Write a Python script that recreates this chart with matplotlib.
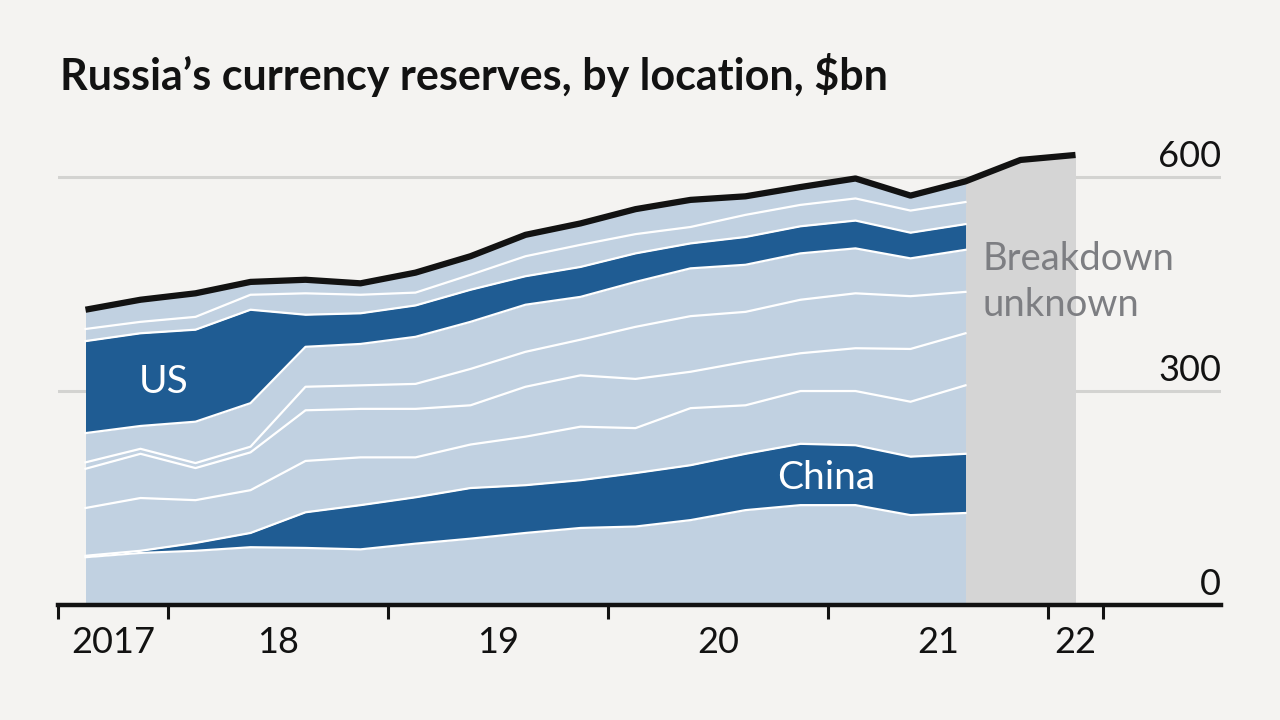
import matplotlib
matplotlib.use("Agg")
import matplotlib.pyplot as plt
import numpy as np

# quarters, plotted at mid-quarter
quarters = [
    "2017Q3", "2017Q4", "2018Q1", "2018Q2", "2018Q3", "2018Q4",
    "2019Q1", "2019Q2", "2019Q3", "2019Q4", "2020Q1", "2020Q2",
    "2020Q3", "2020Q4", "2021Q1", "2021Q2", "2021Q3", "2021Q4", "2022Q1",
]

# stacked bands, bottom to top, $bn (breakdown known up to 2021Q3)
band_1 = [67, 73, 76, 81, 80, 78, 86, 93, 101, 108, 110, 119, 133, 140, 140, 126, 129]
china = [2, 3, 11, 20, 50, 62, 65, 71, 67, 67, 75, 77, 79, 86, 84, 82, 83]
band_3 = [67, 74, 60, 60, 72, 67, 56, 61, 68, 75, 63, 80, 68, 74, 76, 77, 96]
band_4 = [55, 62, 45, 53, 71, 68, 68, 55, 70, 72, 69, 51, 61, 53, 60, 74, 73]
band_5 = [9, 7, 7, 8, 33, 33, 35, 51, 49, 50, 73, 78, 70, 75, 77, 74, 58]
band_6 = [41, 32, 58, 61, 56, 58, 66, 66, 66, 60, 63, 67, 66, 65, 63, 53, 59]
us = [129, 130, 129, 131, 45, 43, 44, 45, 40, 42, 40, 35, 39, 38, 39, 36, 36]
band_8 = [17, 16, 18, 21, 30, 26, 18, 21, 28, 31, 27, 23, 31, 30, 31, 31, 31]
band_9 = [27, 31, 33, 18, 19, 16, 28, 26, 30, 30, 35, 38, 26, 25, 28, 21, 29]

# total reserves, all quarters
total = [414, 428, 437, 453, 456, 451, 466, 489, 519, 535, 555, 568, 573,
         586, 598, 574, 594, 624, 631]

year_ticks = [2017.5, 2018, 2019, 2020, 2021, 2022, 2022.25]
year_label_pos = [2017.75, 2018.5, 2019.5, 2020.5, 2021.5, 2022.125]
year_labels = ["2017", "18", "19", "20", "21", "22"]
y_labels = [0, 300, 600]

BG = "#f4f3f1"
LIGHT = "#c1d1e1"
DARK = "#1f5c93"
GREY_AREA = "#d5d5d5"
GRID = "#d3d3d1"
INK = "#121212"
NOTE = "#7d7e82"

plt.rcParams["font.family"] = ["Lato", "DejaVu Sans"]


def quarter_mid(q):
    return int(q[:4]) + (int(q[-1]) - 1) * 0.25 + 0.125


x_all = np.array([quarter_mid(q) for q in quarters])
layers = [band_1, china, band_3, band_4, band_5, band_6, us, band_8, band_9]
colors = [LIGHT, DARK, LIGHT, LIGHT, LIGHT, LIGHT, DARK, LIGHT, LIGHT]
n_known = len(band_1)
x_known = x_all[:n_known]

fig = plt.figure(figsize=(12.8, 7.2), dpi=100, facecolor=BG)
ax = fig.add_axes([58 / 1280, 115 / 720, 1163 / 1280, 463.6 / 720])
ax.set_facecolor(BG)
ax.set_xlim(2017.5, 2017.5 + 1163 / 220)
ax.set_ylim(0, 650)

for v in [300, 600]:
    ax.axhline(v, color=GRID, lw=2.2, zorder=0)

# stacked areas, white separators drawn separately
base = np.zeros(n_known)
tops = []
for layer, c in zip(layers, colors):
    top = base + np.array(layer)
    ax.fill_between(x_known, base, top, color=c, lw=0, zorder=2)
    tops.append(top)
    base = top
for top in tops[:-1]:
    ax.plot(x_known, top, color="white", lw=1.6, zorder=3)

# period without breakdown
ax.fill_between(x_all[n_known - 1:], 0, total[n_known - 1:], color=GREY_AREA,
                lw=0, zorder=2)
ax.plot(x_all, total, color=INK, lw=4.5, zorder=4, solid_capstyle="butt")

for side in ["left", "right", "top"]:
    ax.spines[side].set_visible(False)
ax.spines["bottom"].set_linewidth(3.2)
ax.spines["bottom"].set_color(INK)
ax.spines["bottom"].set_zorder(5)

ax.set_yticks([])
ax.set_xticks(year_ticks)
ax.set_xticklabels([""] * len(year_ticks))
ax.set_xticks(year_label_pos, minor=True)
ax.set_xticklabels(year_labels, minor=True)
ax.tick_params(axis="x", which="major", length=10, width=2.2, color=INK)
ax.tick_params(axis="x", which="minor", length=0, pad=15, labelsize=26,
               labelcolor=INK)

for v in y_labels:
    ax.text(ax.get_xlim()[1], v + 14, str(v), ha="right", va="baseline",
            fontsize=26, color=INK)

ax.text(2017.98, 297, "US", ha="center", va="baseline", fontsize=28,
        color="white", zorder=6)
ax.text(2020.99, 163, "China", ha="center", va="baseline", fontsize=28,
        color="white", zorder=6)
ax.text(2021.70, 470, "Breakdown", ha="left", va="baseline", fontsize=27.5,
        color=NOTE, zorder=6)
ax.text(2021.70, 405, "unknown", ha="left", va="baseline", fontsize=27.5,
        color=NOTE, zorder=6)

fig.text(60 / 1280, 1 - 90 / 720, "Russia\u2019s currency reserves, by location, $bn",
         fontsize=31, fontweight="bold", color=INK, ha="left", va="baseline")

fig.savefig("out.png", dpi=100, facecolor=BG)
